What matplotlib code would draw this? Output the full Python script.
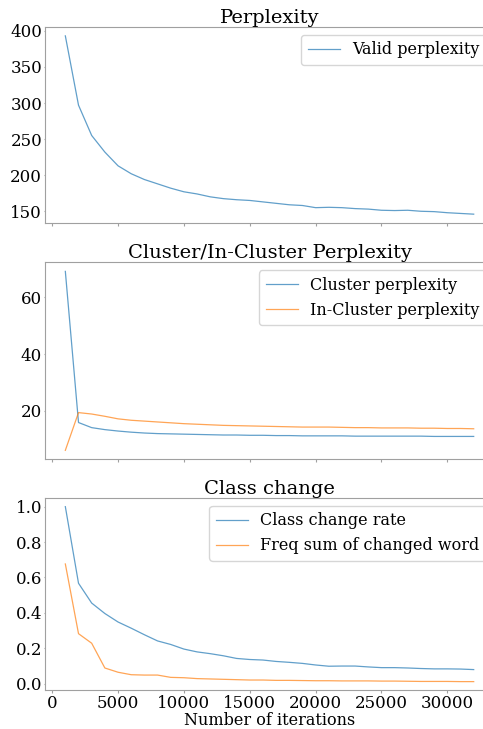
import numpy as np
import matplotlib
matplotlib.use("Agg")
import matplotlib.pyplot as plt

plt.rcParams['font.family'] = 'DejaVu Serif'

# iterations 1000 .. 32000
iters = np.arange(1000, 33000, 1000)

valid_ppl = [393, 297, 255, 232, 213, 202, 194, 188, 182, 177, 174, 170,
             167.5, 166, 165, 163, 161, 159, 158, 155, 155.5, 155, 153.7,
             153, 151.4, 151, 151.4, 150, 149.5, 148, 147, 146]

cluster_ppl = [69.2, 15.9, 14.1, 13.4, 12.9, 12.5, 12.2, 12.0, 11.9, 11.8,
               11.7, 11.6, 11.5, 11.5, 11.4, 11.4, 11.3, 11.3, 11.2, 11.2,
               11.2, 11.2, 11.1, 11.1, 11.1, 11.1, 11.1, 11.1, 11.0, 11.0,
               11.0, 11.0]
in_cluster_ppl = [6.1, 19.4, 18.9, 18.1, 17.2, 16.7, 16.4, 16.1, 15.8, 15.5,
                  15.3, 15.1, 14.9, 14.8, 14.7, 14.6, 14.5, 14.4, 14.3, 14.3,
                  14.3, 14.2, 14.1, 14.1, 14.0, 14.0, 14.0, 13.9, 13.9, 13.8,
                  13.8, 13.7]

change_rate = [1.0, 0.567, 0.455, 0.396, 0.348, 0.313, 0.276, 0.241, 0.221,
               0.195, 0.179, 0.169, 0.157, 0.142, 0.136, 0.133, 0.125, 0.12,
               0.114, 0.105, 0.098, 0.099, 0.099, 0.094, 0.09, 0.09, 0.088,
               0.085, 0.083, 0.083, 0.082, 0.079]
freq_sum = [0.676, 0.282, 0.228, 0.088, 0.064, 0.05, 0.048, 0.048, 0.035,
            0.033, 0.028, 0.026, 0.024, 0.022, 0.02, 0.02, 0.018, 0.018,
            0.017, 0.016, 0.016, 0.015, 0.015, 0.015, 0.014, 0.014, 0.013,
            0.012, 0.012, 0.012, 0.011, 0.011]

fig = plt.figure(figsize=(4.83, 7.29), dpi=100)
ax1 = fig.add_axes([0.093, 0.694, 0.93, 0.269])
ax2 = fig.add_axes([0.093, 0.370, 0.93, 0.270], sharex=ax1)
ax3 = fig.add_axes([0.093, 0.053, 0.93, 0.264], sharex=ax1)

blue = '#1f77b4'
orange = '#ff7f0e'
lw = 0.9
al = 0.7

ax1.plot(iters, valid_ppl, color=blue, lw=lw, alpha=al, label='Valid perplexity')
ax1.set_title('Perplexity', fontsize=14, pad=2)

ax2.plot(iters, cluster_ppl, color=blue, lw=lw, alpha=al, label='Cluster perplexity')
ax2.plot(iters, in_cluster_ppl, color=orange, lw=lw, alpha=al, label='In-Cluster perplexity')
ax2.set_title('Cluster/In-Cluster Perplexity', fontsize=14, pad=2)

ax3.plot(iters, change_rate, color=blue, lw=lw, alpha=al, label='Class change rate')
ax3.plot(iters, freq_sum, color=orange, lw=lw, alpha=al, label='Freq sum of changed word')
ax3.set_title('Class change', fontsize=14, pad=2)
ax3.set_xlabel('Number of iterations', fontsize=11.5, labelpad=-0.5)

for ax in (ax1, ax2, ax3):
    for s in ax.spines.values():
        s.set_color('#a0a0a0')
    ax.tick_params(axis='x', colors='#a0a0a0', labelcolor='black',
                   labelsize=12, length=2, pad=1.5)
    ax.tick_params(axis='y', colors='#a0a0a0', labelcolor='black',
                   labelsize=12, length=1, pad=1)
    ax.legend(loc='upper right', fontsize=11.5, handlelength=2.0)

ax1.tick_params(labelbottom=False)
ax2.tick_params(labelbottom=False)
ax1.set_yticks([150, 200, 250, 300, 350, 400])
ax2.set_yticks([20, 40, 60])
ax3.set_yticks([0.0, 0.2, 0.4, 0.6, 0.8, 1.0])

fig.savefig('out.png', dpi=100)
